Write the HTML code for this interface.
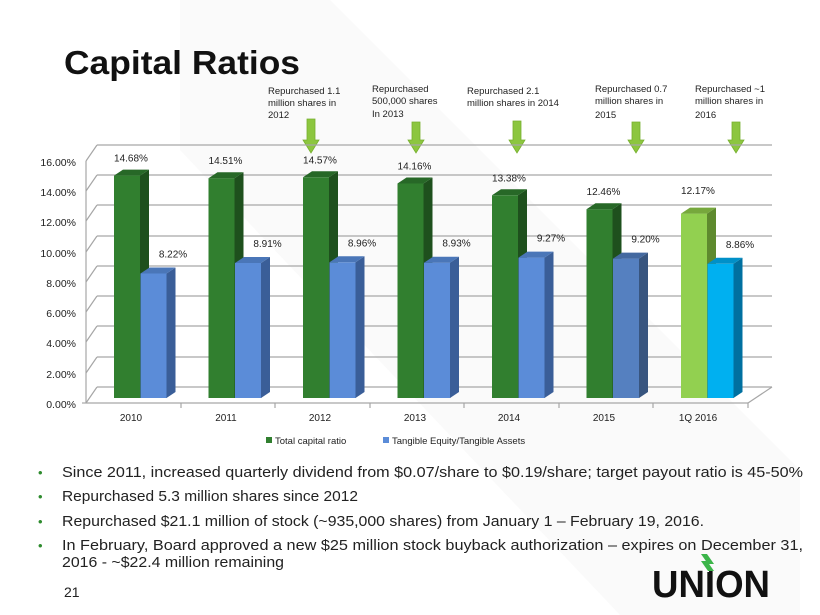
<!DOCTYPE html>
<html><head><meta charset="utf-8"><style>
html,body{margin:0;padding:0;background:#fff;}
svg{display:block;font-family:"Liberation Sans",Arial,sans-serif;}
</style></head><body>
<svg width="820" height="615" viewBox="0 0 820 615" xmlns="http://www.w3.org/2000/svg">
<rect width="820" height="615" fill="#fff"/>
<polygon points="180,0 330,0 800,470 800,615 620,615 180,150" fill="#f6f6f6" opacity="0.6"/>
<text x="64" y="74" font-size="33" font-weight="bold" fill="#111" textLength="236" lengthAdjust="spacingAndGlyphs">Capital Ratios</text>

<g font-size="9.5" fill="#222">
<text x="268" y="94">Repurchased 1.1</text><text x="268" y="106">million shares in</text><text x="268" y="118">2012</text>
<text x="372" y="92">Repurchased</text><text x="372" y="104">500,000 shares</text><text x="372" y="117">In 2013</text>
<text x="467" y="94">Repurchased  2.1</text><text x="467" y="106">million shares in 2014</text>
<text x="595" y="92">Repurchased  0.7</text><text x="595" y="104">million shares in</text><text x="595" y="118">2015</text>
<text x="695" y="92">Repurchased  ~1</text><text x="695" y="104">million shares in</text><text x="695" y="118">2016</text>
</g>
<g fill="#8cc63f" stroke="#77b02f" stroke-width="0.8">
<polygon points="307,119 315,119 315,140 319,140 311,153 303,140 307,140"/>
<polygon points="412,122 420,122 420,140 424,140 416,153 408,140 412,140"/>
<polygon points="513,121 521,121 521,140 525,140 517,153 509,140 513,140"/>
<polygon points="632,122 640,122 640,140 644,140 636,153 628,140 632,140"/>
<polygon points="732,122 740,122 740,140 744,140 736,153 728,140 732,140"/>
</g>

<g stroke="#a6a6a6" stroke-width="1.2" fill="none">
<line x1="97" y1="387" x2="772" y2="387"/><line x1="97" y1="357" x2="772" y2="357"/>
<line x1="97" y1="326" x2="772" y2="326"/><line x1="97" y1="296" x2="772" y2="296"/>
<line x1="97" y1="266" x2="772" y2="266"/><line x1="97" y1="236" x2="772" y2="236"/>
<line x1="97" y1="205" x2="772" y2="205"/><line x1="97" y1="175" x2="772" y2="175"/>
<line x1="97" y1="145" x2="772" y2="145"/>
<line x1="86" y1="403" x2="97" y2="387"/><line x1="86" y1="373" x2="97" y2="357"/>
<line x1="86" y1="342" x2="97" y2="326"/><line x1="86" y1="312" x2="97" y2="296"/>
<line x1="86" y1="282" x2="97" y2="266"/><line x1="86" y1="252" x2="97" y2="236"/>
<line x1="86" y1="221" x2="97" y2="205"/><line x1="86" y1="191" x2="97" y2="175"/>
<line x1="86" y1="161" x2="97" y2="145"/>
<line x1="86" y1="161" x2="86" y2="403"/>
<line x1="86" y1="403" x2="748" y2="403"/><line x1="748" y1="403" x2="772" y2="387"/>
<line x1="82" y1="403" x2="86" y2="403"/>
<line x1="181" y1="403" x2="181" y2="408"/><line x1="275" y1="403" x2="275" y2="408"/>
<line x1="370" y1="403" x2="370" y2="408"/><line x1="464" y1="403" x2="464" y2="408"/>
<line x1="559" y1="403" x2="559" y2="408"/><line x1="653" y1="403" x2="653" y2="408"/>
<line x1="748" y1="403" x2="748" y2="408"/>
</g>
<g font-size="10.5" fill="#222" text-anchor="end">
<text x="76" y="408">0.00%</text><text x="76" y="378">2.00%</text><text x="76" y="347">4.00%</text>
<text x="76" y="317">6.00%</text><text x="76" y="287">8.00%</text><text x="76" y="257">10.00%</text>
<text x="76" y="226">12.00%</text><text x="76" y="196">14.00%</text><text x="76" y="166">16.00%</text>
</g>
<g font-size="10" fill="#222" text-anchor="middle">
<text x="131" y="421">2010</text><text x="226" y="421">2011</text><text x="320" y="421">2012</text>
<text x="415" y="421">2013</text><text x="509" y="421">2014</text><text x="604" y="421">2015</text>
<text x="698" y="421">1Q 2016</text>
</g>

<g transform="translate(114,0)">
<rect x="0" y="175.6" width="26.5" height="222.4" fill="#317f2f"/><polygon points="26,175.6 35,169.6 35,392 26,398" fill="#1e501d"/><polygon points="0,175.6 9,169.6 35,169.6 26,175.6" fill="#276827"/>
<rect x="26.5" y="273.5" width="26.5" height="124.5" fill="#5b8cd8"/><polygon points="52.5,273.5 61.5,267.5 61.5,392 52.5,398" fill="#3a5e98"/><polygon points="26.5,273.5 35.5,267.5 61.5,267.5 52.5,273.5" fill="#4a76b8"/>
</g>
<g transform="translate(208.5,0)">
<rect x="0" y="178.2" width="26.5" height="219.8" fill="#317f2f"/><polygon points="26,178.2 35,172.2 35,392 26,398" fill="#1e501d"/><polygon points="0,178.2 9,172.2 35,172.2 26,178.2" fill="#276827"/>
<rect x="26.5" y="263" width="26.5" height="135" fill="#5b8cd8"/><polygon points="52.5,263 61.5,257 61.5,392 52.5,398" fill="#3a5e98"/><polygon points="26.5,263 35.5,257 61.5,257 52.5,263" fill="#4a76b8"/>
</g>
<g transform="translate(303,0)">
<rect x="0" y="177.3" width="26.5" height="220.7" fill="#317f2f"/><polygon points="26,177.3 35,171.3 35,392 26,398" fill="#1e501d"/><polygon points="0,177.3 9,171.3 35,171.3 26,177.3" fill="#276827"/>
<rect x="26.5" y="262.3" width="26.5" height="135.7" fill="#5b8cd8"/><polygon points="52.5,262.3 61.5,256.3 61.5,392 52.5,398" fill="#3a5e98"/><polygon points="26.5,262.3 35.5,256.3 61.5,256.3 52.5,262.3" fill="#4a76b8"/>
</g>
<g transform="translate(397.5,0)">
<rect x="0" y="183.5" width="26.5" height="214.5" fill="#317f2f"/><polygon points="26,183.5 35,177.5 35,392 26,398" fill="#1e501d"/><polygon points="0,183.5 9,177.5 35,177.5 26,183.5" fill="#276827"/>
<rect x="26.5" y="262.7" width="26.5" height="135.3" fill="#5b8cd8"/><polygon points="52.5,262.7 61.5,256.7 61.5,392 52.5,398" fill="#3a5e98"/><polygon points="26.5,262.7 35.5,256.7 61.5,256.7 52.5,262.7" fill="#4a76b8"/>
</g>
<g transform="translate(492,0)">
<rect x="0" y="195.3" width="26.5" height="202.7" fill="#317f2f"/><polygon points="26,195.3 35,189.3 35,392 26,398" fill="#1e501d"/><polygon points="0,195.3 9,189.3 35,189.3 26,195.3" fill="#276827"/>
<rect x="26.5" y="257.6" width="26.5" height="140.4" fill="#5b8cd8"/><polygon points="52.5,257.6 61.5,251.6 61.5,392 52.5,398" fill="#3a5e98"/><polygon points="26.5,257.6 35.5,251.6 61.5,251.6 52.5,257.6" fill="#4a76b8"/>
</g>
<g transform="translate(586.5,0)">
<rect x="0" y="209.2" width="26.5" height="188.8" fill="#317f2f"/><polygon points="26,209.2 35,203.2 35,392 26,398" fill="#1e501d"/><polygon points="0,209.2 9,203.2 35,203.2 26,209.2" fill="#276827"/>
<rect x="26.5" y="258.6" width="26.5" height="139.4" fill="#5580c0"/><polygon points="52.5,258.6 61.5,252.6 61.5,392 52.5,398" fill="#38557f"/><polygon points="26.5,258.6 35.5,252.6 61.5,252.6 52.5,258.6" fill="#4469a0"/>
</g>
<g transform="translate(681,0)">
<rect x="0" y="213.6" width="26.5" height="184.4" fill="#92d050"/><polygon points="26,213.6 35,207.6 35,392 26,398" fill="#5e8a2e"/><polygon points="0,213.6 9,207.6 35,207.6 26,213.6" fill="#76a83c"/>
<rect x="26.5" y="263.8" width="26.5" height="134.2" fill="#00b0f0"/><polygon points="52.5,263.8 61.5,257.8 61.5,392 52.5,398" fill="#0070a0"/><polygon points="26.5,263.8 35.5,257.8 61.5,257.8 52.5,263.8" fill="#0090c8"/>
</g>

<g font-size="10" fill="#222" text-anchor="middle">
<text x="131" y="161.6">14.68%</text><text x="173" y="257.5">8.22%</text>
<text x="225.5" y="164.2">14.51%</text><text x="267.5" y="247">8.91%</text>
<text x="320" y="163.3">14.57%</text><text x="362" y="246.3">8.96%</text>
<text x="414.5" y="169.5">14.16%</text><text x="456.5" y="246.7">8.93%</text>
<text x="509" y="181.3">13.38%</text><text x="551" y="241.6">9.27%</text>
<text x="603.5" y="195.2">12.46%</text><text x="645.5" y="242.6">9.20%</text>
<text x="698" y="194">12.17%</text><text x="740" y="247.8">8.86%</text>
</g>

<rect x="266" y="437" width="6" height="6" fill="#317f2f"/>
<text x="275" y="444" font-size="9.5" fill="#222">Total capital ratio</text>
<rect x="383" y="437" width="6" height="6" fill="#5b8cd8"/>
<text x="392" y="444" font-size="9.5" fill="#222">Tangible Equity/Tangible Assets</text>

<g font-size="15" fill="#222">
<text x="62" y="477" textLength="741" lengthAdjust="spacingAndGlyphs">Since 2011, increased quarterly dividend from $0.07/share to $0.19/share; target payout ratio is 45-50%</text>
<text x="62" y="501" textLength="296" lengthAdjust="spacingAndGlyphs">Repurchased 5.3 million shares since 2012</text>
<text x="62" y="526" textLength="642" lengthAdjust="spacingAndGlyphs">Repurchased $21.1 million of stock (~935,000 shares) from January 1 – February 19, 2016.</text>
<text x="62" y="550" textLength="741" lengthAdjust="spacingAndGlyphs">In February, Board approved a new $25 million stock buyback authorization – expires on December 31,</text>
<text x="62" y="567" textLength="222" lengthAdjust="spacingAndGlyphs">2016 - ~$22.4 million remaining</text>
</g>
<g fill="#2e8b2e" font-size="13">
<text x="38" y="477">•</text><text x="38" y="501">•</text><text x="38" y="526">•</text><text x="38" y="550">•</text>
</g>
<text x="64" y="597" font-size="14" fill="#222">21</text>

<text x="652" y="597" font-size="38" font-weight="bold" fill="#111" textLength="118" lengthAdjust="spacingAndGlyphs">UNION</text>
<rect x="703" y="568" width="6" height="4" fill="#fff"/>
<polygon points="701,554 707,554 714,564 708,564" fill="#3cb54a"/>
<polygon points="701,561 707,561 714,571 708,571" fill="#3cb54a"/>
</svg>
</body></html>
